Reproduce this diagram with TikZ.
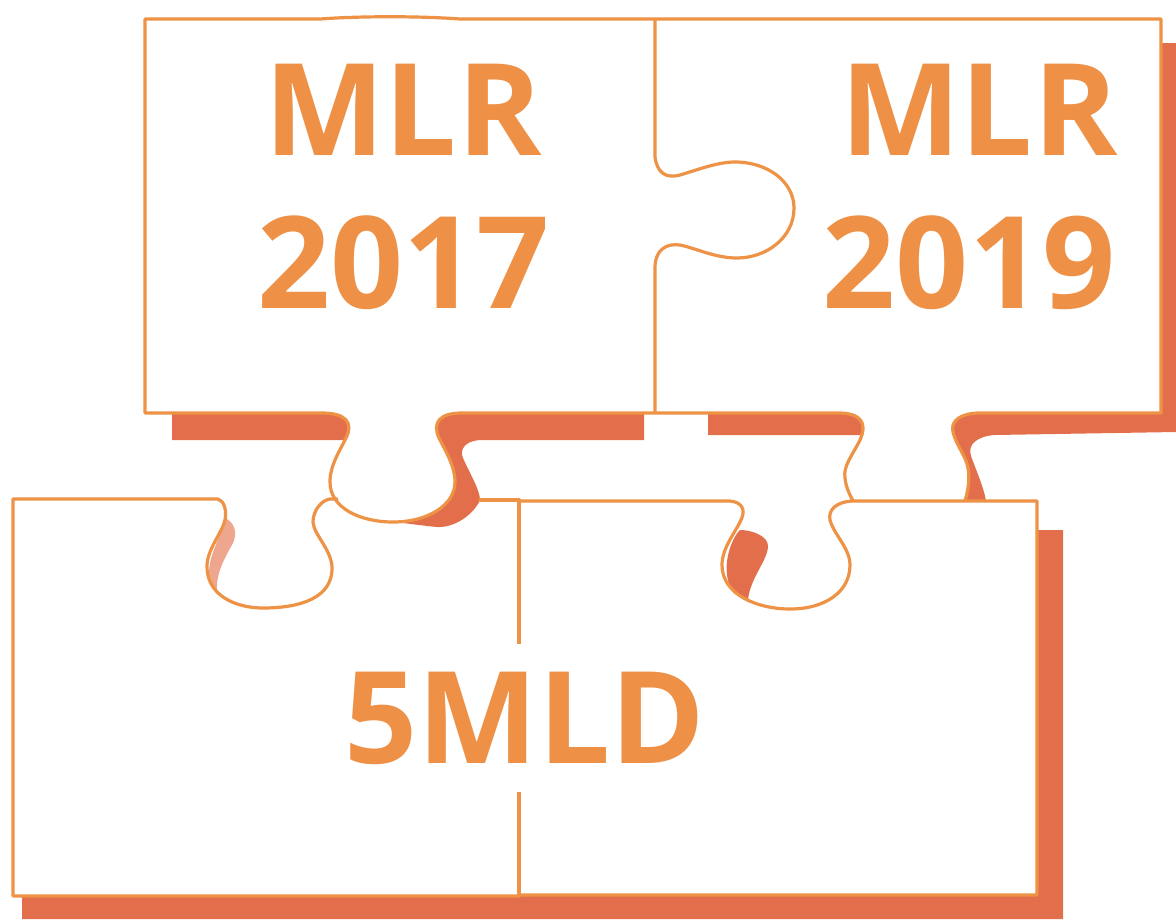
\documentclass[tikz,border=0pt]{standalone}
\usepackage{fontspec}
\setmainfont{Open Sans}
\definecolor{pzline}{HTML}{EE9245}
\definecolor{pzshadow}{HTML}{E36E4B}
\definecolor{pzpink}{HTML}{EFA68F}
\definecolor{pztext}{HTML}{EE9146}
\begin{document}
\begin{tikzpicture}[x=1pt,y=-1pt,
  pzoutline/.style={draw=pzline, line width=3.2pt, line join=round, line cap=round},
  pzdrop/.style={fill=pzshadow},
  pzsoft/.style={fill=pzpink},
  pzlabel/.style={text=pztext, font=\fontsize{128}{128}\selectfont\bfseries, inner sep=0pt}]
\useasboundingbox (0,0) rectangle (1176,919);

% ---- drop shadows ----
% top-left piece: strip left of its tab
\path[pzdrop] (172,413) -- (322,413) .. controls (345,413) and (354,422) .. (346,438)
  -- (345,440) -- (172,440) -- cycle;
% top-left piece: strip right of its tab, with the tab's own shadow
\path[pzdrop] (462,413) -- (644,413) -- (644,440) -- (482,440)
  .. controls (466,440) and (459,449) .. (463,458)
  .. controls (470,474) and (480,490) .. (480,500)
  .. controls (474,514) and (455,528) .. (437,527)
  .. controls (425,526) and (405,523) .. (393,522)
  .. controls (428,522) and (455,505) .. (455,482)
  .. controls (455,466) and (446,452) .. (439,438)
  .. controls (432,422) and (440,413) .. (462,413) -- cycle;
% top-right piece: strip left of its tab
\path[pzdrop] (708,413) -- (838,413) .. controls (860,413) and (868,422) .. (862,435)
  -- (708,435) -- cycle;
% top-right piece: right side, bottom strip and tab shadow
\path[pzdrop] (965,501) .. controls (968,490) and (970,480) .. (968,468)
  .. controls (966,456) and (956,445) .. (953,432)
  .. controls (950,420) and (962,413) .. (980,413) -- (1160,413) -- (1160,43)
  -- (1176,43) -- (1176,432) -- (995,435)
  .. controls (978,436) and (967,444) .. (971,456)
  .. controls (976,470) and (984,488) .. (986,501) -- cycle;
% bottom pieces: bottom and right strips
\path[pzdrop] (22,896) -- (1038,896) -- (1038,530) -- (1063,530) -- (1063,919) -- (22,919) -- cycle;
% shadow inside the bottom-right notch
\path[pzdrop] (740,530) .. controls (752,530) and (768,536) .. (768,546)
  .. controls (768,560) and (750,578) .. (748,600) -- (735,594)
  .. controls (722,580) and (725,550) .. (738,532) -- cycle;
% faint shadow inside the bottom-left notch
\path[pzsoft] (225,518) .. controls (234,522) and (238,532) .. (233,543)
  .. controls (226,556) and (216,572) .. (217,590) -- (210,582)
  .. controls (205,560) and (220,540) .. (223,525) -- cycle;

% ---- piece outlines ----
% top-left piece with its tab
\draw[pzoutline] (654,19) -- (460,19) .. controls (420,16) and (360,16) .. (320,19)
  -- (145,19) -- (145,413) -- (322,413)
  .. controls (345,413) and (354,422) .. (346,438)
  .. controls (338,454) and (330,466) .. (330,482)
  .. controls (330,508) and (360,522) .. (393,522)
  .. controls (428,522) and (455,505) .. (455,482)
  .. controls (455,466) and (446,452) .. (439,438)
  .. controls (432,422) and (440,413) .. (462,413) -- (654,413);
% shared edge of the two top pieces, with its knob
\draw[pzoutline] (655,19) -- (655,157)
  .. controls (657,172) and (665,179) .. (680,175)
  .. controls (700,169) and (718,162) .. (735,162)
  .. controls (768,162) and (794,182) .. (794,208)
  .. controls (794,238) and (766,258) .. (737,258)
  .. controls (715,258) and (695,248) .. (680,245)
  .. controls (666,243) and (655,250) .. (655,268) -- (655,413);
% top-right piece with its tab
\draw[pzoutline] (655,19) -- (1161,19) -- (1161,413) -- (980,413)
  .. controls (962,413) and (950,420) .. (953,432)
  .. controls (956,445) and (966,456) .. (968,468)
  .. controls (970,480) and (968,490) .. (965,501);
\draw[pzoutline] (655,413) -- (838,413)
  .. controls (860,413) and (868,422) .. (860,440)
  .. controls (852,456) and (843,466) .. (845,478)
  .. controls (846,488) and (850,495) .. (853,501);
% bottom-left piece with its notch
\draw[pzoutline] (337,499) -- (330,499)
  .. controls (322,500) and (313,510) .. (313,522)
  .. controls (314,535) and (331,549) .. (332,567)
  .. controls (333,598) and (300,608) .. (263,608)
  .. controls (235,608) and (206,595) .. (207,565)
  .. controls (208,548) and (222,533) .. (225,520)
  .. controls (227,510) and (224,501) .. (218,499)
  -- (13,499) -- (13,896) -- (519,896);
\draw[pzoutline] (480,500) -- (519,500);
% bottom-right piece with its notch
\draw[pzoutline] (519,501) -- (730,501)
  .. controls (742,502) and (746,510) .. (741,520)
  .. controls (735,533) and (722,548) .. (722,565)
  .. controls (722,595) and (758,609) .. (790,609)
  .. controls (825,609) and (850,592) .. (850,565)
  .. controls (850,548) and (834,535) .. (830,520)
  .. controls (828,510) and (836,502) .. (852,501)
  -- (1037,501) -- (1037,895) -- (519,895);
% shared edge of the two bottom pieces
\draw[pzoutline] (519,500) -- (519,896);

% ---- labels ----
\node[pzlabel, anchor=base] (mlrA) at (403,155) {MLR};
\node[pzlabel, anchor=base] (yrA) at (403.5,308) {2017};
\node[pzlabel, anchor=base] (mlrB) at (979,155) {MLR};
\node[pzlabel, anchor=base] (yrB) at (969,308) {2019};
\node[pzlabel, anchor=base, fill=white, inner xsep=4pt, inner ysep=28pt] (mld) at (525,763) {5MLD};
\end{tikzpicture}
\end{document}
